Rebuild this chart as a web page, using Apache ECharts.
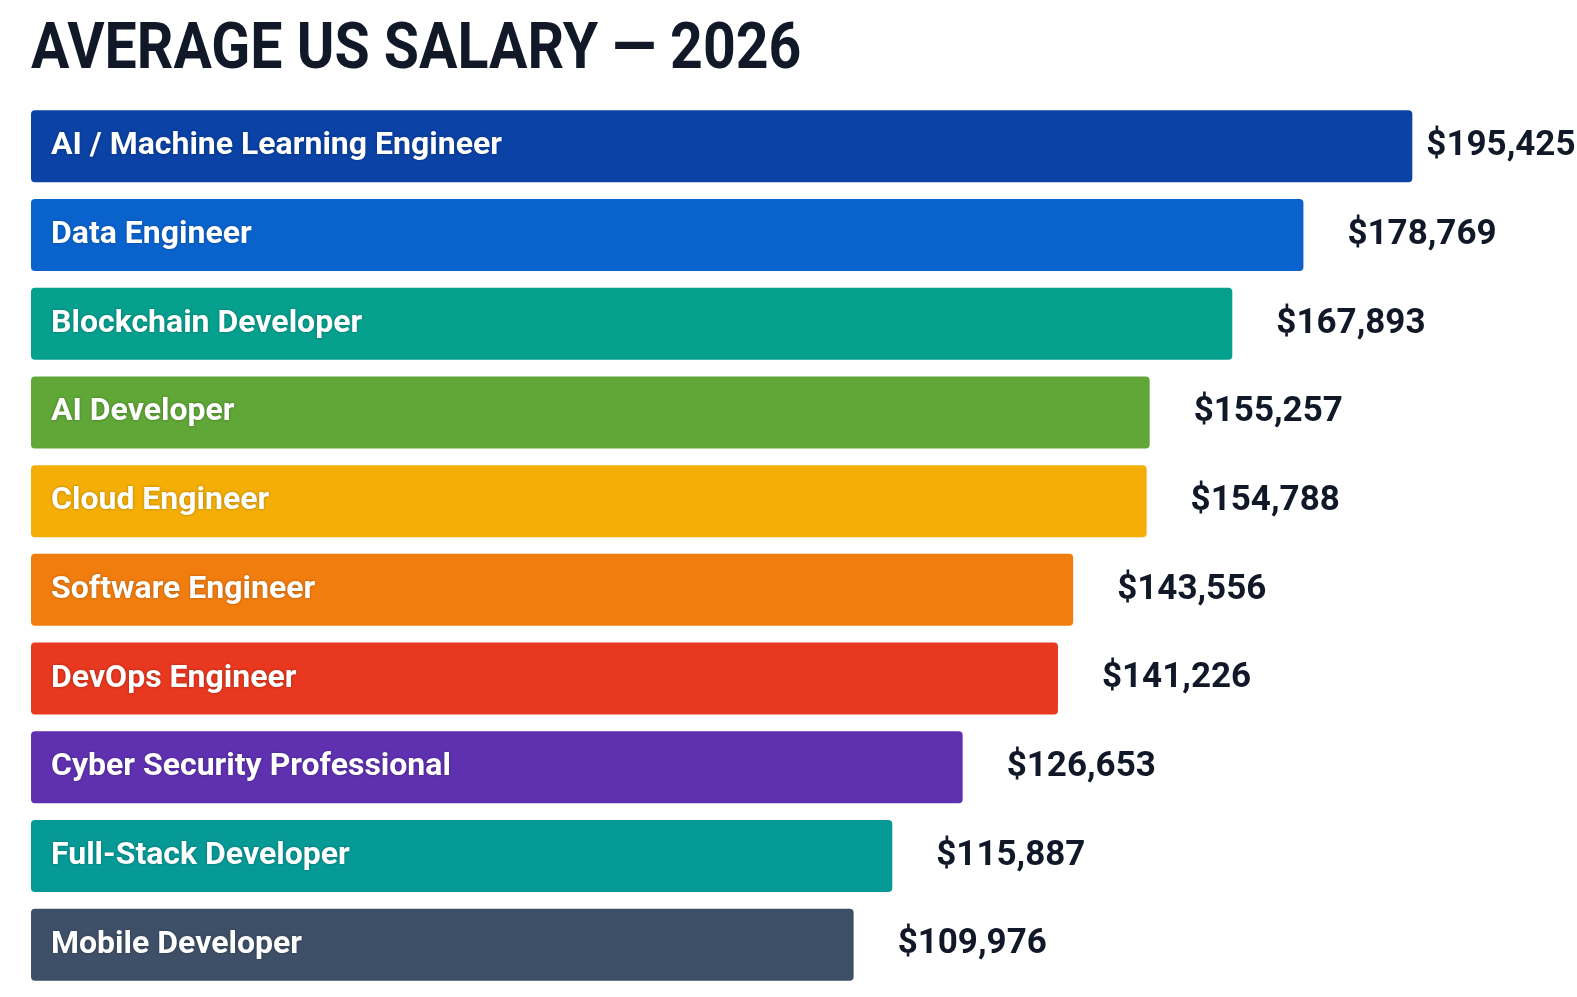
<!DOCTYPE html>
<html>
<head>
<meta charset="utf-8">
<title>Average US Salary 2026</title>
<script src="https://cdn.jsdelivr.net/npm/echarts@6/dist/echarts.min.js"></script>
<style>
  html, body { margin: 0; padding: 0; background: #fff; }
  #chart { width: 1577px; height: 997px; }
</style>
</head>
<body>
<div id="chart"></div>
<script>
const chartTitle = 'AVERAGE US SALARY \u2014 2026';
const categories = [
  'AI / Machine Learning Engineer',
  'Data Engineer',
  'Blockchain Developer',
  'AI Developer',
  'Cloud Engineer',
  'Software Engineer',
  'DevOps Engineer',
  'Cyber Security Professional',
  'Full-Stack Developer',
  'Mobile Developer'
];
const salaries = [195425, 178769, 167893, 155257, 154788, 143556, 141226, 126653, 115887, 109976];
const barColors = ['#0a42a5', '#0a63cd', '#06a08f', '#60a737', '#f4ae05', '#f27d0f', '#e8381f', '#5f31b0', '#069a97', '#3e5068'];

const chart = echarts.init(document.getElementById('chart'));

// value labels sit right of the bars, top one a bit closer so it fits
const valueData = salaries.map((v, i) => ({
  value: v,
  label: i === 0 ? { distance: 14 } : undefined
}));

chart.setOption({
  backgroundColor: '#ffffff',
  animation: false,
  // title drawn as graphic text so it can be squeezed like a condensed face
  graphic: [{
    type: 'text',
    left: 31,
    top: 19,
    scaleX: 0.88,
    style: {
      text: chartTitle,
      fontFamily: 'Roboto',
      fontWeight: 'bold',
      fontSize: 65,
      fill: '#111827'
    }
  }],
  grid: { left: 31, top: 102, width: 1542, height: 887 },
  xAxis: {
    type: 'value',
    min: -15840,
    max: 220000,
    startValue: -15840,
    show: false
  },
  yAxis: {
    type: 'category',
    data: categories,
    inverse: true,
    show: false
  },
  series: [
    {
      type: 'bar',
      data: salaries,
      barWidth: 72,
      itemStyle: {
        borderRadius: 4,
        color: p => barColors[p.dataIndex]
      },
      label: {
        show: true,
        position: 'insideLeft',
        distance: 20,
        formatter: '{b}',
        fontFamily: 'Roboto',
        fontWeight: 'bold',
        fontSize: 32,
        color: '#ffffff',
        textShadowColor: 'rgba(0,0,0,0.3)',
        textShadowBlur: 3
      }
    },
    {
      type: 'bar',
      data: valueData,
      barWidth: 72,
      barGap: '-100%',
      silent: true,
      itemStyle: { color: 'rgba(0,0,0,0)' },
      label: {
        show: true,
        position: 'right',
        distance: 44,
        formatter: p => '$' + p.value.toLocaleString('en-US'),
        fontFamily: 'Roboto',
        fontWeight: 'bold',
        fontSize: 35,
        color: '#111827'
      }
    }
  ]
});
</script>
</body>
</html>
